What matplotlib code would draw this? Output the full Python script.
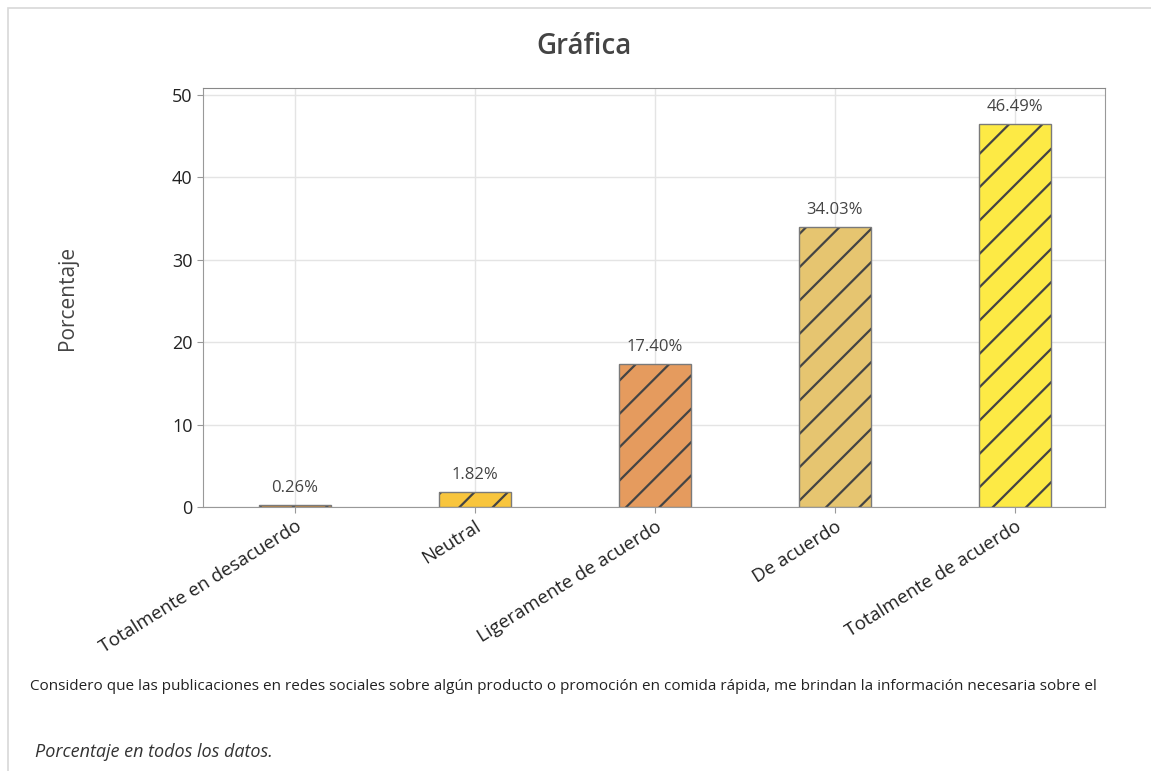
import matplotlib
matplotlib.use("Agg")
import matplotlib.pyplot as plt
from matplotlib.patches import Rectangle

categories = ["Totalmente en desacuerdo", "Neutral", "Ligeramente de acuerdo",
              "De acuerdo", "Totalmente de acuerdo"]
values = [0.26, 1.82, 17.40, 34.03, 46.49]
colors = ["#c98a3c", "#f8c53d", "#e59b5e", "#e6c570", "#fdea45"]

plt.rcParams["font.family"] = ["Open Sans", "DejaVu Sans"]
plt.rcParams["hatch.linewidth"] = 1.6

fig = plt.figure(figsize=(11.51, 7.71), dpi=100)
ax = fig.add_axes([203 / 1151, 1 - 507 / 771, 902 / 1151, 419 / 771])

x = range(len(categories))
# fill + dark hatch, then a grey outline on top
ax.bar(x, values, width=0.4, color=colors, edgecolor="#444444",
       linewidth=0, hatch="/", zorder=3)
bars = ax.bar(x, values, width=0.4, fill=False, edgecolor="#7a7a7a",
              linewidth=1.0, zorder=4)
for b, v in zip(bars, values):
    ax.text(b.get_x() + b.get_width() / 2, v + 1.1, f"{v:.2f}%",
            ha="center", va="bottom", fontsize=12, color="#444444")

ax.set_xlim(-0.51, 4.5)
ax.set_ylim(0, 50.85)
ax.set_yticks([0, 10, 20, 30, 40, 50])
ax.set_xticks(list(x))
ax.set_xticklabels(categories, rotation=32, ha="right", rotation_mode="anchor",
                   fontsize=13.5, color="#222222")
ax.tick_params(axis="y", labelsize=13, colors="#222222")
ax.tick_params(axis="both", color="#999999", length=4)
ax.grid(True, color="#e4e4e4", linewidth=1.0, zorder=0)
for s in ax.spines.values():
    s.set_color("#999999")
ax.spines["top"].set_color("#888888")
ax.set_ylabel("Porcentaje", fontsize=15, color="#444444", labelpad=68)

fig.text(584 / 1151, 1 - 47 / 771, "Gráfica", ha="center", va="center",
         fontsize=20, color="#444444", fontweight="semibold")
fig.text(30 / 1151, 1 - 686 / 771,
         "Considero que las publicaciones en redes sociales sobre algún producto o promoción "
         "en comida rápida, me brindan la información necesaria sobre el",
         ha="left", va="center", fontsize=11, color="#222222")
fig.text(35 / 1151, 1 - 752 / 771, "Porcentaje en todos los datos.",
         ha="left", va="center", fontsize=13, style="italic", color="#333333")

fig.patches.append(Rectangle((8 / 1151, -0.01), 1.02, 1 - 8 / 771 + 0.01,
                             transform=fig.transFigure, fill=False,
                             edgecolor="#d8d8d8", linewidth=1.2))

fig.savefig("out.png", dpi=100)
